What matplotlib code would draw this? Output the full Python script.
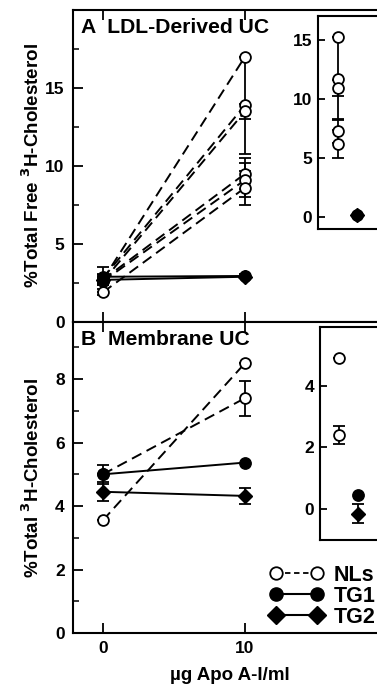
import matplotlib.pyplot as plt
from matplotlib.lines import Line2D
from matplotlib.ticker import MultipleLocator

plt.rcParams['font.family'] = ['Liberation Sans', 'DejaVu Sans']
plt.rcParams['font.weight'] = 'bold'
plt.rcParams['axes.labelweight'] = 'bold'

DOSE = [0, 10]
INSET_X = [1, 2]

# panel A: LDL-derived UC, one line per subject
nl_a_0 = [2.7, 2.8, 2.6, 2.7, 2.6, 1.9]
nl_a_10 = [17.0, 13.9, 13.5, 9.5, 9.1, 8.6]
nl_a_err0 = [0.8, 0.2, 0.2, 0.2, 0.2, 0.2]
nl_a_err10 = [0.0, 3.1, 0.5, 1.0, 1.1, 1.1]
tg1_a = [2.9, 2.95]
tg1_a_err = [0.2, 0.1]
tg2_a = [2.7, 2.9]
tg2_a_err = [0.2, 0.1]

# inset A (net values)
ins_a_nl = [15.2, 11.7, 10.9, 7.3, 6.2]
ins_a_nl_err = [0.0, 3.5, 0.7, 1.0, 1.2]
ins_a_tg1 = 0.2
ins_a_tg2 = 0.2

# panel B: membrane UC
nl_b_0 = [5.0, 3.55]
nl_b_10 = [7.4, 8.5]
nl_b_err10 = [0.55, 0.0]
tg1_b = [5.0, 5.37]
tg1_b_err = [0.3, 0.0]
tg2_b = [4.45, 4.32]
tg2_b_err = [0.3, 0.25]

# inset B
ins_b_nl = [4.9, 2.4]
ins_b_nl_err = [0.0, 0.3]
ins_b_tg1 = 0.45
ins_b_tg2 = -0.15
ins_b_tg2_err = 0.3

FS = 12.5
DASH = (0, (5.5, 3))
open_c = dict(marker='o', mfc='white', mec='black', ms=7.8, mew=1.3)
full_c = dict(marker='o', mfc='black', mec='black', ms=8.2)
full_d = dict(marker='D', mfc='black', mec='black', ms=7.5)
eb = dict(ecolor='black', elinewidth=1.3, capsize=4, capthick=1.3)

fig = plt.figure(figsize=(3.77, 6.88), dpi=100)
W, H = 377, 688


def px_axes(x0, y0, x1, y1):
    return fig.add_axes([x0 / W, 1 - y1 / H, (x1 - x0) / W, (y1 - y0) / H])


axA = px_axes(73, 10, 387, 322)
axB = px_axes(73, 322, 387, 633)
inA = px_axes(318, 16, 400, 229)
inB = px_axes(320, 327, 400, 540)

# ---- panel A
for y0, y1, e0, e1 in zip(nl_a_0, nl_a_10, nl_a_err0, nl_a_err10):
    axA.plot(DOSE, [y0, y1], color='black', lw=1.4, ls=DASH, zorder=2)
    axA.errorbar(DOSE, [y0, y1], yerr=[e0, e1], fmt='none', zorder=3, **eb)
    axA.plot(DOSE, [y0, y1], ls='none', zorder=4, **open_c)
axA.errorbar(DOSE, tg1_a, yerr=tg1_a_err, color='black', lw=1.4, zorder=5, **full_c, **eb)
axA.errorbar(DOSE, tg2_a, yerr=tg2_a_err, color='black', lw=1.4, zorder=5, **full_d, **eb)

axA.set_ylim(0, 20)
axA.set_yticks([0, 5, 10, 15])
axA.yaxis.set_minor_locator(MultipleLocator(2.5))
axA.set_ylabel('%Total Free $^{\\mathbf{3}}$H-Cholesterol', fontsize=13.5)
axA.text(0.025, 0.975, 'A  LDL-Derived UC', transform=axA.transAxes,
         ha='left', va='top', fontsize=15.2)
axA.tick_params(labelbottom=False)

# ---- panel B
for y0, y1, e1 in zip(nl_b_0, nl_b_10, nl_b_err10):
    axB.plot(DOSE, [y0, y1], color='black', lw=1.4, ls=DASH, zorder=2)
    axB.errorbar(DOSE, [y0, y1], yerr=[0, e1], fmt='none', zorder=3, **eb)
    axB.plot(DOSE, [y0, y1], ls='none', zorder=4, **open_c)
axB.errorbar(DOSE, tg1_b, yerr=tg1_b_err, color='black', lw=1.4, zorder=5, **full_c, **eb)
axB.errorbar(DOSE, tg2_b, yerr=tg2_b_err, color='black', lw=1.4, zorder=5, **full_d, **eb)

axB.set_ylim(0, 9.8)
axB.set_yticks([0, 2, 4, 6, 8])
axB.yaxis.set_minor_locator(MultipleLocator(1))
axB.set_ylabel('%Total $^{\\mathbf{3}}$H-Cholesterol', fontsize=13.5)
axB.set_xlabel('\u00b5g Apo A-I/ml', fontsize=13.5, labelpad=8)
axB.text(0.025, 0.975, 'B  Membrane UC', transform=axB.transAxes,
         ha='left', va='top', fontsize=15.2)

for ax in (axA, axB):
    ax.set_xlim(-2.1, 20)
    ax.set_xticks(DOSE)
    ax.tick_params(axis='both', which='major', direction='in', length=7,
                   width=1.3, labelsize=FS, pad=6, top=True)
    ax.tick_params(axis='y', which='minor', direction='in', length=4, width=1.1)
    for s in ax.spines.values():
        s.set_linewidth(1.5)
    ax.yaxis.set_label_coords(-0.095, 0.5)

# ---- insets
inA.errorbar([INSET_X[0]] * len(ins_a_nl), ins_a_nl, yerr=ins_a_nl_err,
             fmt='none', zorder=2, **eb)
inA.plot([INSET_X[0]] * len(ins_a_nl), ins_a_nl, ls='none', zorder=3, **open_c)
inA.plot([INSET_X[1]], [ins_a_tg1], ls='none', **full_c)
inA.plot([INSET_X[1]], [ins_a_tg2], ls='none', **full_d)
inA.set_ylim(-1, 17)
inA.set_yticks([0, 5, 10, 15])

inB.errorbar([INSET_X[0]] * len(ins_b_nl), ins_b_nl, yerr=ins_b_nl_err,
             fmt='none', zorder=2, **eb)
inB.plot([INSET_X[0]] * len(ins_b_nl), ins_b_nl, ls='none', zorder=3, **open_c)
inB.plot([INSET_X[1]], [ins_b_tg1], ls='none', **full_c)
inB.errorbar([INSET_X[1]], [ins_b_tg2], yerr=ins_b_tg2_err, fmt='none', **eb)
inB.plot([INSET_X[1]], [ins_b_tg2], ls='none', **full_d)
inB.set_ylim(-1, 5.9)
inB.set_yticks([0, 2, 4])

for ax in (inA, inB):
    ax.set_xlim(0, 4.2)
    ax.set_xticks([])
    ax.tick_params(axis='y', direction='in', length=5, width=1.3,
                   labelsize=FS, pad=4)
    for s in ax.spines.values():
        s.set_linewidth(1.5)

# ---- legend
leg_c = dict(open_c, ms=9)
handles = [
    Line2D([], [], color='black', lw=1.3, ls=(0, (3, 2)), **leg_c),
    Line2D([], [], color='black', lw=1.5, **dict(full_c, ms=9.5)),
    Line2D([], [], color='black', lw=1.5, **dict(full_d, ms=9)),
]
fig.legend(handles, ['NLs', 'TG1', 'TG2'], loc='upper left',
           bbox_to_anchor=(270 / W, 1 - 565 / H), frameon=False, numpoints=2,
           fontsize=15.5, handlelength=2.5, handletextpad=0.44,
           labelspacing=0.0, borderpad=0, borderaxespad=0)

fig.savefig('out.png', dpi=100)
